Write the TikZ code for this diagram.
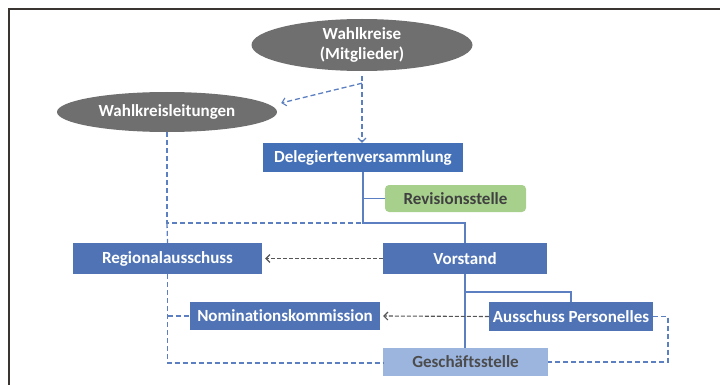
\documentclass[tikz,border=0pt]{standalone}
\usepackage{fontspec}
\setmainfont{Carlito}[Ligatures=NoCommon]
\usetikzlibrary{shapes.geometric,arrows.meta}
\definecolor{boxblue}{HTML}{4F73B5}
\definecolor{dvblue}{HTML}{4470B8}
\definecolor{lightblue}{HTML}{9BB5DF}
\definecolor{revgreen}{HTML}{A8D08D}
\definecolor{ellgray}{HTML}{6F6F6F}
\definecolor{lineblue}{HTML}{5B7FC0}
\definecolor{arrgray}{HTML}{555555}
\definecolor{framecol}{HTML}{3A3530}
\begin{document}
\begin{tikzpicture}[x=1pt,y=-1pt,
  font=\bfseries\fontsize{17}{20}\selectfont,
  ell/.style={ellipse,fill=ellgray,text=white,inner sep=0pt,align=center},
  bbox/.style={rectangle,fill=boxblue,text=white,inner sep=0pt},
  bdash/.style={draw=lineblue,line width=1.3pt,dash pattern=on 5pt off 3pt},
  gdash/.style={draw=arrgray,line width=1.1pt,dash pattern=on 4pt off 2pt},
  bsolid/.style={draw=lineblue,line width=1.4pt},
  tip/.style={-{Straight Barb[length=4pt,width=8pt,line width=1.1pt]}}
]
\useasboundingbox (0,0) rectangle (720,385);
\draw[framecol,line width=1.4pt] (9,385) -- (9,9) -- (720,9);

\node[ell,minimum width=221pt,minimum height=52pt] (wk) at (362,45) {Wahlkreise\\(Mitglieder)};
\node[ell,minimum width=220pt,minimum height=40pt] (wkl) at (167,112) {Wahlkreisleitungen};
\node[bbox,fill=dvblue,minimum width=200pt,minimum height=29pt] (dv) at (363,157.5) {Delegiertenversammlung};
\node[rectangle,rounded corners=4pt,fill=revgreen,text=black!75,minimum width=141pt,minimum height=27pt,inner sep=0pt] (rev) at (455.5,198.5) {Revisionsstelle};
\node[bbox,minimum width=164pt,minimum height=31pt] (vor) at (465,258.5) {Vorstand};
\node[bbox,minimum width=189pt,minimum height=31pt] (reg) at (167.5,258.5) {Regionalausschuss};
\node[bbox,minimum width=190pt,minimum height=28pt] (nom) at (285,316) {Nominationskommission};
\node[bbox,minimum width=164pt,minimum height=29pt] (aus) at (571,316.5) {Ausschuss Personelles};
\node[bbox,fill=lightblue,text=black!70,minimum width=165pt,minimum height=28pt] (ges) at (465.5,362) {Geschäftsstelle};

% coordinates
\coordinate (br) at ([yshift=-12pt]wk.south);
\coordinate (j1) at (dv.south |- 0,223);
\coordinate (j2) at (wkl.south |- 0,223);
\coordinate (j3) at (dv.south |- rev.west);
\coordinate (j4) at (vor.south |- 0,292);
\coordinate (j5) at (reg.south |- nom.west);
\coordinate (j6) at (reg.south |- 0,363);
\coordinate (j7) at (668,0 |- aus.east);

% dashed blue
\draw[bdash,tip] ([yshift=-5pt]wk.south) -- (wk.south |- dv.north);
\draw[bdash,tip] (br) -- ([xshift=4pt,yshift=9pt]wkl.east);
\draw[bdash] (wkl.south) -- (j2) -- (j1);
\draw[bdash] (j2) -- (reg.north);
\draw[bdash] (reg.south) -- (j6) -- (ges.west |- j6);
\draw[bdash] (j5) -- (nom.west);
\draw[bdash] (aus.east) -- (j7) |- (ges.east);

% solid blue
\draw[bsolid] (dv.south) -- (j1) -| (vor.north);
\draw[bsolid] (j3) -- (rev.west);
\draw[bsolid] (vor.south) -- (vor.south |- ges.north);
\draw[bsolid] (j4) -| (aus.north);

% gray dashed arrows
\draw[gdash,tip] (vor.west) -- ([xshift=3pt]reg.east);
\draw[gdash,tip] (aus.west) -- ([xshift=3pt]nom.east);
\end{tikzpicture}
\end{document}
